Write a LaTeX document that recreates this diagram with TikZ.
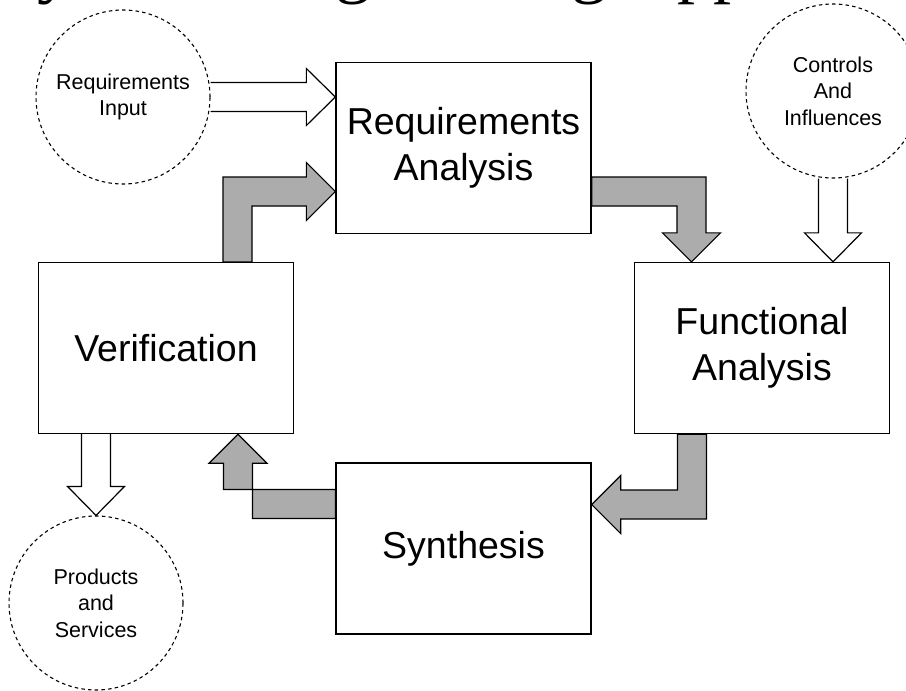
\documentclass[tikz,border=0pt]{standalone}
\usepackage{fontspec}
\setmainfont{Liberation Sans}
\newfontfamily\titlefont{Liberation Serif}
\usetikzlibrary{calc}
\definecolor{flowgray}{RGB}{172,172,172}
\tikzset{
  stage/.style={draw, line width=1.3pt, minimum width=255pt, minimum height=171pt,
    inner sep=0pt, align=center, font=\fontsize{37.5}{46}\selectfont},
  source/.style={draw, circle, dash pattern=on 3.5pt off 3.2pt, line width=1.1pt,
    minimum size=174pt, inner sep=0pt, align=center, font=\fontsize{21.5}{26.5}\selectfont},
  flow/.style={draw, line width=1.2pt, fill=flowgray, line join=miter},
  feed/.style={draw, line width=1.2pt, line join=miter},
}
\begin{document}
\begin{tikzpicture}[x=1pt,y=-1pt]
  \clip (0,0) rectangle (906,691);
  \fill[white] (0,0) rectangle (906,691);

  % heading, only its descenders fall inside the frame
  \node[anchor=base, inner sep=0pt, font=\titlefont\fontsize{72}{80}\selectfont]
    (title) at (453,-11) {Systems Engineering Approach};

  % process stages
  \node[stage] (ra)  at (463.5,148)   {Requirements\\Analysis};
  \node[stage] (fa)  at (762,348)     {Functional\\Analysis};
  \node[stage] (ver) at (166,348)     {Verification};
  \node[stage] (syn) at (463.5,548.5) {Synthesis};

  % external inputs and outputs
  \node[source] (rin)  at (123,97)  {Requirements\\Input};
  \node[source] (ctl)  at (833,91)  {Controls\\And\\Influences};
  \node[source] (prod) at (96,603)  {Products\\and\\Services};

  % loop: Verification -> Requirements Analysis
  \draw[flow] let \p1=([xshift=71.5pt]ver.north), \p2=([yshift=-43.5pt]ra.west) in
    (\x1-14.5pt,\y1) -- (\x1-14.5pt,\y2+14.5pt) -- (\x2-29pt,\y2+14.5pt)
    -- (\x2-29pt,\y2+29pt) -- (\p2) -- (\x2-29pt,\y2-29pt) -- (\x2-29pt,\y2-14.5pt)
    -- (\x1+14.5pt,\y2-14.5pt) -- (\x1+14.5pt,\y1) -- cycle;

  % loop: Requirements Analysis -> Functional Analysis
  \draw[flow] let \p1=([yshift=-43.5pt]ra.east), \p2=([xshift=-70.5pt]fa.north) in
    (\x1,\y1+14.5pt) -- (\x2+14.5pt,\y1+14.5pt) -- (\x2+14.5pt,\y2+29pt)
    -- (\x2+29pt,\y2+29pt) -- (\p2) -- (\x2-29pt,\y2+29pt) -- (\x2-14.5pt,\y2+29pt)
    -- (\x2-14.5pt,\y1-14.5pt) -- (\x1,\y1-14.5pt) -- cycle;

  % loop: Functional Analysis -> Synthesis
  \draw[flow] let \p1=([xshift=-70pt]fa.south), \p2=([yshift=44pt]syn.east) in
    (\x1+14.5pt,\y1) -- (\x1+14.5pt,\y2-14.5pt) -- (\x2+29pt,\y2-14.5pt)
    -- (\x2+29pt,\y2-29pt) -- (\p2) -- (\x2+29pt,\y2+29pt) -- (\x2+29pt,\y2+14.5pt)
    -- (\x1-14.5pt,\y2+14.5pt) -- (\x1-14.5pt,\y1) -- cycle;

  % loop: Synthesis -> Verification
  \draw[flow] let \p1=([yshift=44.5pt]syn.west), \p2=([xshift=72pt]ver.south) in
    (\x1,\y1-14.5pt) -- (\x2+14.5pt,\y1-14.5pt) -- (\x2+14.5pt,\y2-29pt)
    -- (\x2+29pt,\y2-29pt) -- (\p2) -- (\x2-29pt,\y2-29pt) -- (\x2-14.5pt,\y2-29pt)
    -- (\x2-14.5pt,\y1+14.5pt) -- (\x1,\y1+14.5pt) -- cycle;

  % Requirements Input -> Requirements Analysis
  \draw[feed] let \p1=(rin.east), \p2=([yshift=51pt]ra.west) in
    (\x1,\y2+14.5pt) -- (\x2-29pt,\y2+14.5pt) -- (\x2-29pt,\y2+28.5pt) -- (\p2)
    -- (\x2-29pt,\y2-28.5pt) -- (\x2-29pt,\y2-14.5pt) -- (\x1,\y2-14.5pt);

  % Controls And Influences -> Functional Analysis
  \draw[feed] let \p1=(ctl.south), \p2=([xshift=71pt]fa.north) in
    (\x2-14.5pt,\y1) -- (\x2-14.5pt,\y2+29pt) -- (\x2-28.5pt,\y2+29pt) -- (\p2)
    -- (\x2+28.5pt,\y2+29pt) -- (\x2+14.5pt,\y2+29pt) -- (\x2+14.5pt,\y1);

  % Verification -> Products and Services
  \draw[feed] let \p1=([xshift=-71pt]ver.south), \p2=(prod.north) in
    (\x2-14.5pt,\y1) -- (\x2-14.5pt,\y2+29pt) -- (\x2-28.5pt,\y2+29pt) -- (\p2)
    -- (\x2+28.5pt,\y2+29pt) -- (\x2+14.5pt,\y2+29pt) -- (\x2+14.5pt,\y1);
\end{tikzpicture}
\end{document}
